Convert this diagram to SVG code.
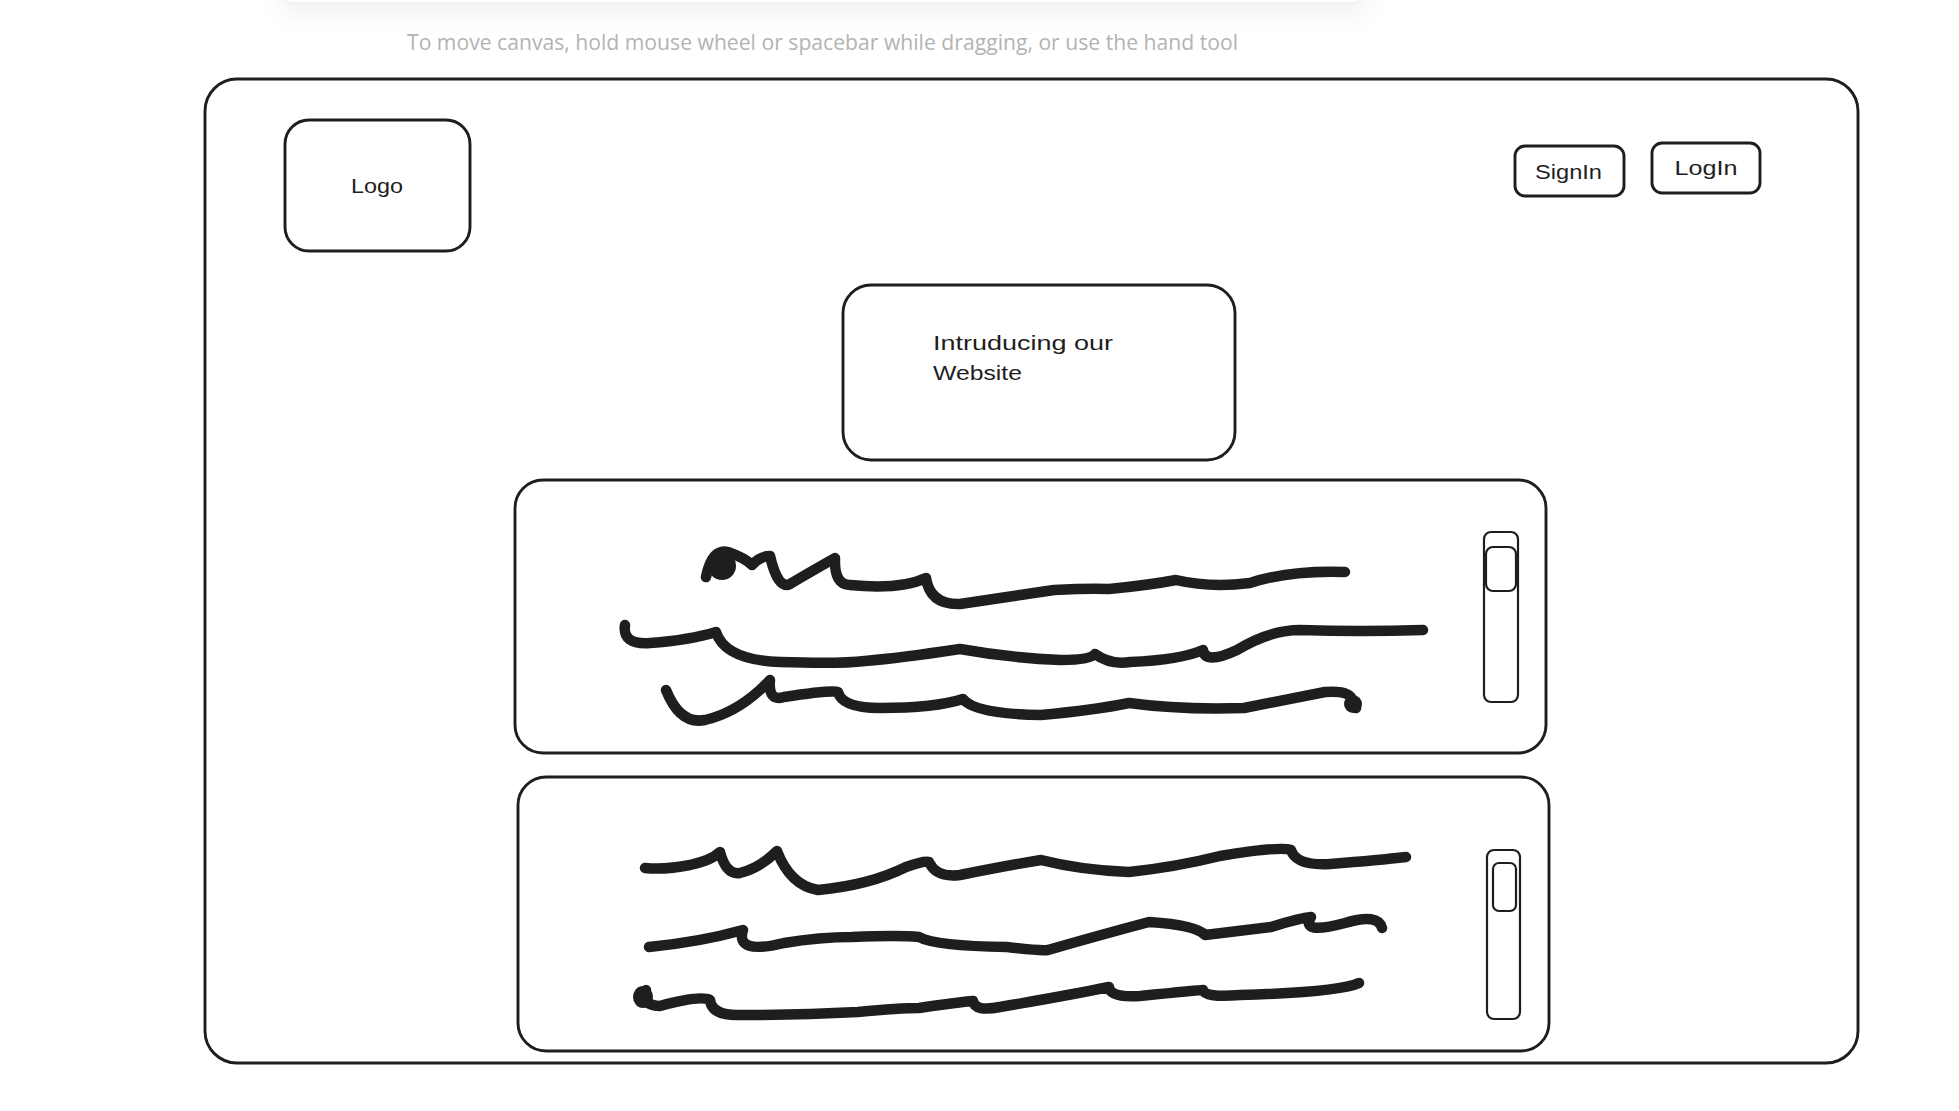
<svg xmlns="http://www.w3.org/2000/svg" width="1959" height="1111" viewBox="0 0 1959 1111">
  <defs>
    <filter id="shadow" x="-10%" y="-200%" width="120%" height="700%">
      <feDropShadow dx="0" dy="8" stdDeviation="14" flood-color="#000" flood-opacity="0.07"/>
    </filter>
    <style>
      .box { fill: none; stroke: #1e1e1e; stroke-width: 2.9; stroke-linejoin: round; }
      .thin { fill: none; stroke: #1e1e1e; stroke-width: 2.2; }
      .sq { fill: none; stroke: #1e1e1e; stroke-width: 10.5; stroke-linecap: round; stroke-linejoin: round; }
      .hand { font-family: "Comic Sans MS", "Liberation Sans", "DejaVu Sans", sans-serif; font-size: 21px; fill: #1e1e1e; }
      .hint { font-family: "Open Sans", "Liberation Sans", sans-serif; font-size: 21px; fill: #b3b3b3; }
    </style>
  </defs>
  <rect width="1959" height="1111" fill="#ffffff"/>

  <g id="toolbar">
    <rect x="282" y="-30" width="1081" height="33" rx="10" fill="#ffffff" filter="url(#shadow)"/>
    <rect x="282" y="-30" width="1081" height="33" rx="10" fill="none" stroke="#ececec" stroke-width="1"/>
  </g>
  <text id="hint" class="hint" x="407" y="50" textLength="831" lengthAdjust="spacingAndGlyphs">To move canvas, hold mouse wheel or spacebar while dragging, or use the hand tool</text>

  <g id="page">
    <rect class="box" x="205" y="79" width="1653" height="984" rx="32"/>
  </g>

  <g id="logo">
    <rect class="box" x="285" y="120" width="185" height="131" rx="24"/>
    <text class="hand" x="377" y="193" text-anchor="middle" textLength="52" lengthAdjust="spacingAndGlyphs">Logo</text>
  </g>

  <g id="signin">
    <rect class="box" x="1515" y="146" width="109" height="50" rx="10"/>
    <text class="hand" x="1568.5" y="179" text-anchor="middle" textLength="67" lengthAdjust="spacingAndGlyphs">SignIn</text>
  </g>

  <g id="login">
    <rect class="box" x="1652" y="143" width="108" height="50" rx="10"/>
    <text class="hand" x="1706" y="175" text-anchor="middle" textLength="63" lengthAdjust="spacingAndGlyphs">LogIn</text>
  </g>

  <g id="intro">
    <rect class="box" x="843" y="285" width="392" height="175" rx="28"/>
    <text class="hand" x="933" y="350" textLength="180" lengthAdjust="spacingAndGlyphs">Intruducing our</text>
    <text class="hand" x="933" y="380" textLength="89" lengthAdjust="spacingAndGlyphs">Website</text>
  </g>

  <g id="content1">
    <rect class="box" x="515" y="480" width="1031" height="273" rx="28"/>
    <path class="sq" d="M706,577 Q712,548 728,552 Q745,558 752,565 Q760,556 770,556 Q778,590 790,584 Q805,575 835,558 Q834,585 850,585 Q900,590 926,578 Q930,605 960,604 Q1000,598 1054,590 Q1090,588 1109,589 Q1150,585 1176,580 Q1210,588 1250,583 Q1290,570 1345,572"/>
    <ellipse cx="722" cy="566" rx="14" ry="14" fill="#1e1e1e"/>
    <path class="sq" d="M625,625 Q622,645 650,643 Q690,640 716,632 Q725,660 780,662 Q840,664 865,661 Q900,658 960,649 Q1010,658 1061,660 Q1090,660 1095,654 Q1110,665 1130,662 Q1180,660 1203,650 Q1205,665 1237,650 Q1270,630 1300,630 Q1360,632 1423,630"/>
    <path class="sq" d="M666,690 Q680,725 705,720 Q740,712 770,680 Q768,702 784,697 Q830,690 838,692 Q842,708 880,708 Q935,708 963,699 Q975,714 1041,715 Q1095,710 1129,703 Q1180,710 1244,708 Q1300,697 1325,692 Q1350,690 1352,700 L1356,708"/>
    <ellipse cx="1353" cy="704" rx="9" ry="9" fill="#1e1e1e"/>
    <rect class="thin" x="1484" y="532" width="34" height="170" rx="7"/>
    <rect class="thin" x="1486" y="547" width="30" height="44" rx="7"/>
  </g>

  <g id="content2">
    <rect class="box" x="518" y="777" width="1031" height="274" rx="28"/>
    <path class="sq" d="M645,868 Q665,870 690,865 Q712,860 720,852 Q726,875 740,873 Q760,868 777,851 Q790,885 818,890 Q870,885 906,867 Q925,860 929,862 Q936,878 960,875 Q1010,865 1041,860 Q1080,870 1129,872 Q1176,867 1220,856 Q1280,846 1291,850 Q1296,866 1330,864 Q1380,860 1406,857"/>
    <path class="sq" d="M649,947 Q700,942 743,930 Q735,955 784,943 Q820,937 852,937 Q900,935 919,937 Q935,946 1007,947 Q1040,951 1048,950 Q1100,935 1149,922 Q1196,925 1205,935 Q1230,932 1271,927 Q1300,918 1311,917 Q1300,935 1345,923 Q1378,913 1382,928"/>
    <path class="sq" d="M646,990 Q640,1005 660,1006 Q700,995 710,1000 Q712,1016 740,1015 Q800,1015 858,1012 Q900,1008 919,1008 Q960,1002 973,1001 Q975,1012 1000,1007 Q1070,995 1109,987 Q1110,998 1140,996 Q1200,990 1203,990 Q1205,998 1240,995 Q1340,992 1359,983"/>
    <ellipse cx="643" cy="997" rx="10" ry="11" fill="#1e1e1e"/>
    <rect class="thin" x="1487" y="850" width="33" height="169" rx="7"/>
    <rect class="thin" x="1493" y="863" width="23" height="48" rx="6"/>
  </g>
</svg>
